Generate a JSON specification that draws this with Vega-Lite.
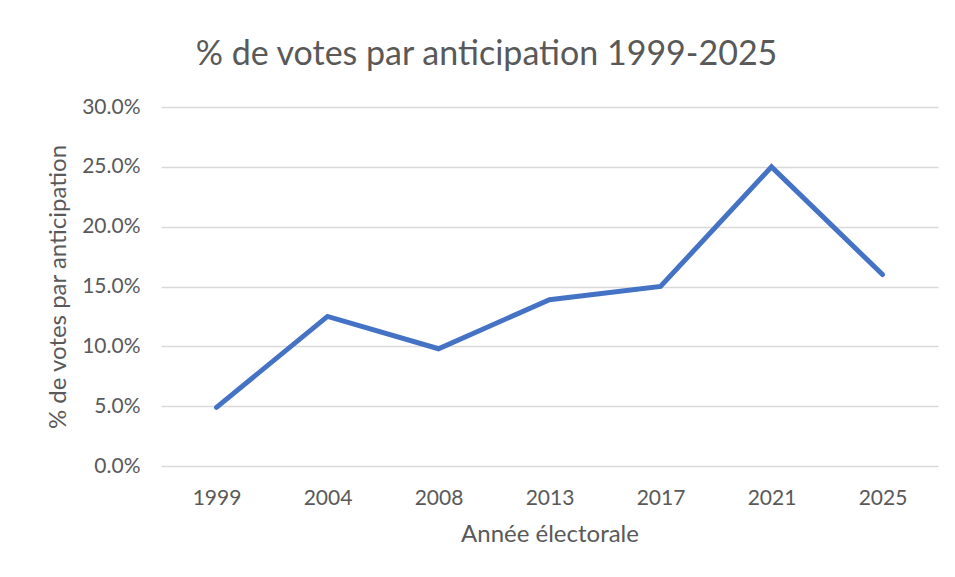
{
  "$schema": "https://vega.github.io/schema/vega-lite/v6.json",
  "width": 777,
  "height": 359,
  "autosize": "none",
  "padding": {"left": 161, "top": 107, "right": 17, "bottom": 111},
  "background": "white",
  "config": {
    "view": {"stroke": null},
    "font": "Lato",
    "axis": {
      "labelFont": "Lato",
      "titleFont": "Lato",
      "labelColor": "#595959",
      "titleColor": "#595959",
      "labelFontSize": 21,
      "titleFontSize": 24,
      "titleFontWeight": "normal",
      "domain": false,
      "ticks": false
    }
  },
  "title": {
    "text": "% de votes par anticipation 1999-2025",
    "font": "Lato",
    "fontSize": 34,
    "fontWeight": "normal",
    "color": "#595959",
    "anchor": "middle",
    "frame": "group",
    "baseline": "alphabetic",
    "offset": -3,
    "dx": -63
  },
  "data": {
    "values": [
      {"year": "1999", "pct": 0.049},
      {"year": "2004", "pct": 0.125},
      {"year": "2008", "pct": 0.098},
      {"year": "2013", "pct": 0.139},
      {"year": "2017", "pct": 0.150},
      {"year": "2021", "pct": 0.250},
      {"year": "2025", "pct": 0.160}
    ]
  },
  "mark": {"type": "line", "color": "#4472C4", "strokeWidth": 5, "strokeCap": "round", "strokeJoin": "miter"},
  "encoding": {
    "x": {
      "field": "year",
      "type": "ordinal",
      "scale": {"type": "point", "padding": 0.5},
      "axis": {"title": "Année électorale", "labelAngle": 0, "labelPadding": 21, "titlePadding": 14, "grid": false}
    },
    "y": {
      "field": "pct",
      "type": "quantitative",
      "scale": {"domain": [0, 0.3], "nice": false},
      "axis": {
        "title": "% de votes par anticipation",
        "format": ".1%",
        "values": [0, 0.05, 0.1, 0.15, 0.2, 0.25, 0.3],
        "labelPadding": 21,
        "titlePadding": 11,
        "grid": true,
        "gridColor": "#d9d9d9",
        "gridWidth": 1.5
      }
    }
  }
}
